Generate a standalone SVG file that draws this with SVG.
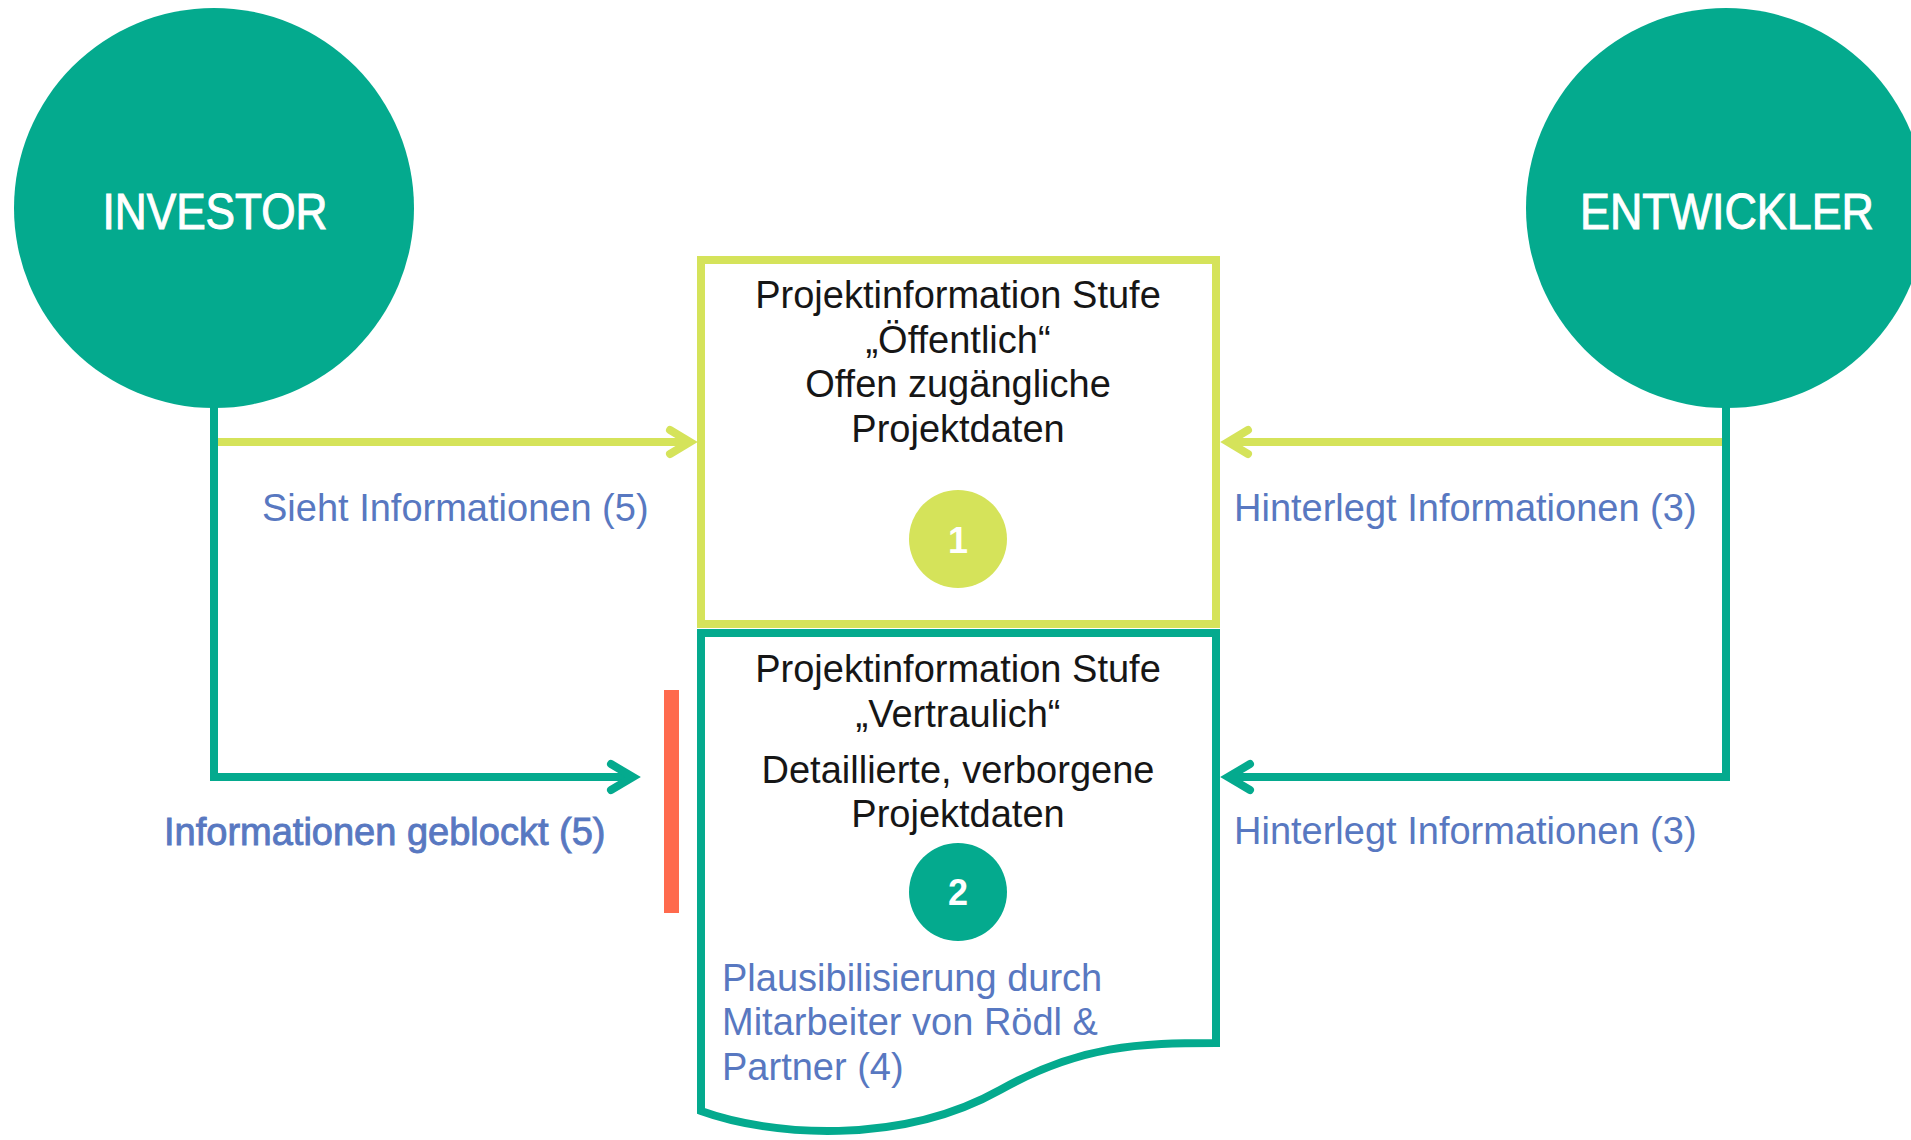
<svg xmlns="http://www.w3.org/2000/svg" width="1911" height="1140" viewBox="0 0 1911 1140">
  <style>
    .t { font-family: "Liberation Sans", Arial, sans-serif; font-size: 38px; }
    .dark { fill: #161616; }
    .blue { fill: #5878C1; }
    .mid { text-anchor: middle; }
    .actor { font-family: "Liberation Sans", Arial, sans-serif; font-size: 50px; fill: #ffffff; stroke: #ffffff; stroke-width: 1; text-anchor: middle; }
    .badge { font-family: "Liberation Sans", Arial, sans-serif; font-size: 36px; font-weight: bold; fill: #ffffff; text-anchor: middle; }
    .ly { fill: none; stroke: #D5E35A; stroke-width: 8; stroke-linejoin: miter; }
    .lt { fill: none; stroke: #04AA8E; stroke-width: 8; stroke-linejoin: miter; }
  </style>
  <defs>
    <marker id="ah-y" markerUnits="userSpaceOnUse" viewBox="-30 -20 45 40" refX="0" refY="0" markerWidth="45" markerHeight="40" orient="auto" overflow="visible">
      <path d="M-20,-12 L0,0 L-20,12" fill="none" stroke="#D5E35A" stroke-width="8" stroke-linecap="round" stroke-linejoin="miter"/>
    </marker>
    <marker id="ah-t" markerUnits="userSpaceOnUse" viewBox="-30 -20 45 40" refX="0" refY="0" markerWidth="45" markerHeight="40" orient="auto" overflow="visible">
      <path d="M-22,-13 L0,0 L-22,13" fill="none" stroke="#04AA8E" stroke-width="8" stroke-linecap="round" stroke-linejoin="miter"/>
    </marker>
  </defs>
  <rect width="1911" height="1140" fill="#ffffff"/>

  <g id="connectors">
    <path class="ly" d="M214,442 H690" marker-end="url(#ah-y)"/>
    <path class="ly" d="M1726,442 H1228" marker-end="url(#ah-y)"/>
    <path class="lt" d="M214,400 V777 H633" marker-end="url(#ah-t)"/>
    <path class="lt" d="M1726,400 V777 H1228" marker-end="url(#ah-t)"/>
  </g>

  <g id="investor">
    <circle cx="214" cy="208" r="200" fill="#04AA8E"/>
    <text class="actor" x="215" y="229" textLength="225" lengthAdjust="spacingAndGlyphs">INVESTOR</text>
  </g>

  <g id="entwickler">
    <circle cx="1726" cy="208" r="200" fill="#04AA8E"/>
    <text class="actor" x="1727" y="229" textLength="294" lengthAdjust="spacingAndGlyphs">ENTWICKLER</text>
  </g>

  <g id="box-public">
    <rect x="701" y="260" width="515" height="364" fill="#ffffff" stroke="#D5E35A" stroke-width="8"/>
    <text class="t dark mid" x="958" y="308">Projektinformation Stufe</text>
    <text class="t dark mid" x="958" y="353">„Öffentlich“</text>
    <text class="t dark mid" x="958" y="397">Offen zugängliche</text>
    <text class="t dark mid" x="958" y="442">Projektdaten</text>
    <circle cx="958" cy="539" r="49" fill="#D5E35A"/>
    <text class="badge" x="958" y="553">1</text>
  </g>

  <g id="box-confidential">
    <path d="M701,633 H1216 V1043 C1140,1043 1080,1045 1000,1090 C900,1146 770,1136 701,1111 Z" fill="#ffffff" stroke="#04AA8E" stroke-width="8" stroke-linejoin="miter"/>
    <text class="t dark mid" x="958" y="682">Projektinformation Stufe</text>
    <text class="t dark mid" x="958" y="727">„Vertraulich“</text>
    <text class="t dark mid" x="958" y="783">Detaillierte, verborgene</text>
    <text class="t dark mid" x="958" y="827">Projektdaten</text>
    <circle cx="958" cy="892" r="49" fill="#04AA8E"/>
    <text class="badge" x="958" y="905">2</text>
    <text class="t blue" x="722" y="991">Plausibilisierung durch</text>
    <text class="t blue" x="722" y="1035">Mitarbeiter von Rödl &amp;</text>
    <text class="t blue" x="722" y="1080">Partner (4)</text>
  </g>

  <g id="block">
    <rect x="664" y="690" width="15" height="223" fill="#FF6A4D"/>
  </g>

  <g id="labels">
    <text class="t blue" x="262" y="521">Sieht Informationen (5)</text>
    <text class="t blue" x="164" y="845" stroke="#5878C1" stroke-width="0.9">Informationen geblockt (5)</text>
    <text class="t blue" x="1234" y="521">Hinterlegt Informationen (3)</text>
    <text class="t blue" x="1234" y="844">Hinterlegt Informationen (3)</text>
  </g>
</svg>
